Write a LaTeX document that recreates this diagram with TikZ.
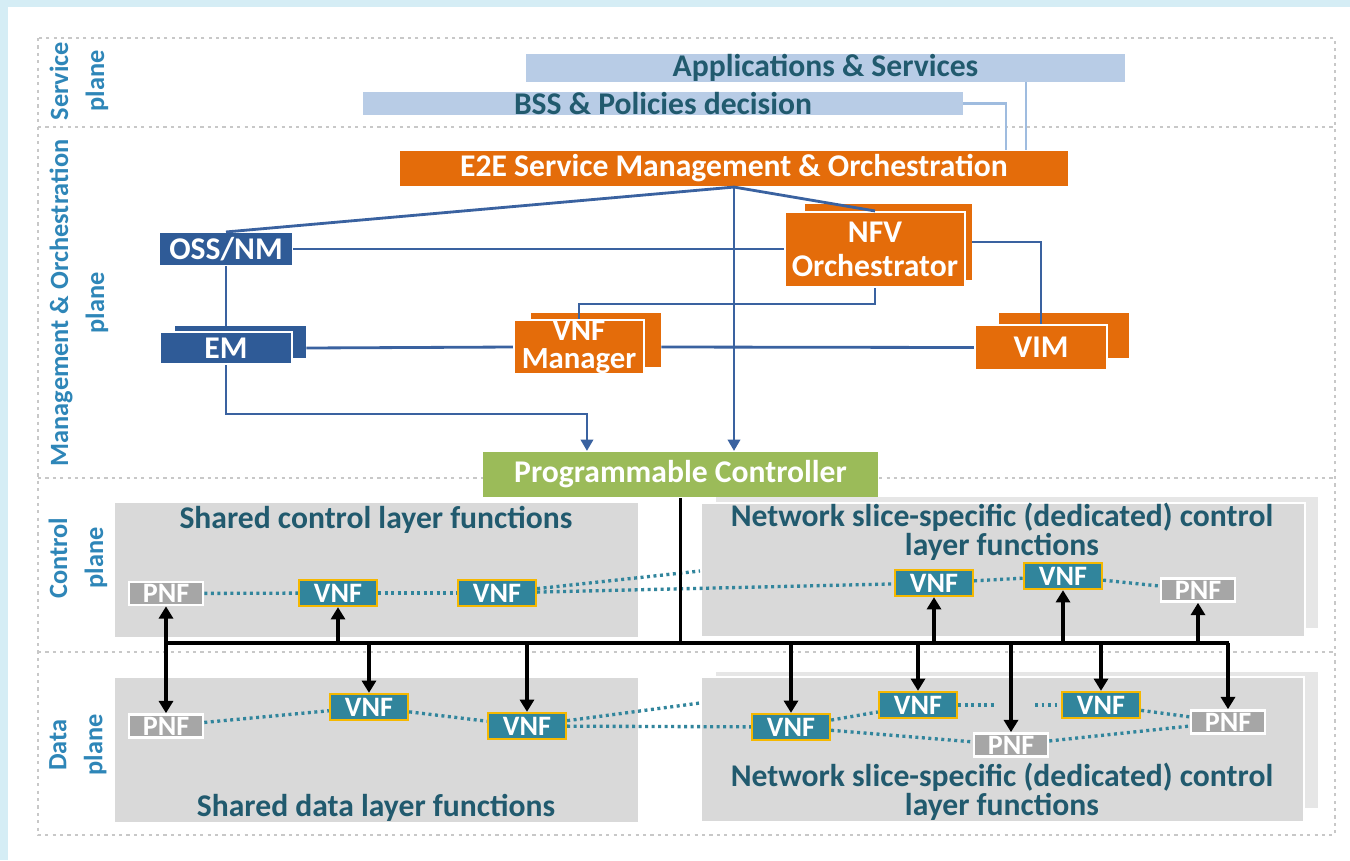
\documentclass[tikz,border=0pt]{standalone}
\usepackage{fontspec}
\setmainfont{Carlito}
\usepackage{tikz}
\usetikzlibrary{arrows.meta}
\definecolor{cFrame}{HTML}{D5EDF5}
\definecolor{cLine}{HTML}{C8C8C8}
\definecolor{cLbl}{HTML}{2E86B8}
\definecolor{cTitle}{HTML}{215A6E}
\definecolor{cSky}{HTML}{B8CCE6}
\definecolor{cSkyLn}{HTML}{9FBCDF}
\definecolor{cOrange}{HTML}{E46C0A}
\definecolor{cNavy}{HTML}{2F5B97}
\definecolor{cWire}{HTML}{3A62A0}
\definecolor{cGreen}{HTML}{9BBB59}
\definecolor{cRegion}{HTML}{D9D9D9}
\definecolor{cRegBk}{HTML}{E6E6E6}
\definecolor{cTeal}{HTML}{31859C}
\definecolor{cGold}{HTML}{F5B800}
\definecolor{cPGray}{HTML}{A6A6A6}
\tikzset{
  bar/.style={fill=cSky,text=cTitle,font=\fontsize{18}{20}\selectfont\bfseries,inner sep=0pt,minimum width=12cm,minimum height=0.44cm},
  mbox/.style={fill=#1,draw=white,line width=1.2pt,text=white,font=\fontsize{18}{18}\selectfont\bfseries,inner sep=0pt,align=center},
  mbox/.default=cOrange,
  mback/.style={fill=#1,inner sep=0pt},
  mback/.default=cOrange,
  vnfbox/.style={fill=cTeal,draw=cGold,line width=1.3pt,text=white,font=\fontsize{16}{16}\selectfont\bfseries,inner sep=0pt,minimum width=1.56cm,minimum height=0.52cm},
  pnfbox/.style={fill=cPGray,draw=white,line width=1.5pt,text=white,font=\fontsize{16}{16}\selectfont\bfseries,inner sep=0pt,minimum width=1.48cm,minimum height=0.46cm},
  planeln/.style={draw=cLine,line width=1.6pt,dash pattern=on 1.8pt off 2.4pt},
  planelbl/.style={rotate=90,font=\fontsize{15}{20.5}\selectfont\bfseries,text=cLbl,align=center,inner sep=0pt},
  regtitle/.style={text=cTitle,font=\fontsize{18}{16.5}\selectfont\bfseries,align=center,inner sep=0pt},
  sline/.style={draw=cSkyLn,line width=1.3pt},
  mline/.style={draw=cWire,line width=1.6pt},
  marr/.style={mline,-{Triangle[length=6.5pt,width=7pt]}},
  busln/.style={black,line width=1.9pt},
  barr/.style={busln,-{Triangle[length=7pt,width=8pt]}},
  dotlink/.style={draw=cTeal,line width=1.9pt,dash pattern=on 1.7pt off 2pt},
}
\begin{document}
\begin{tikzpicture}[x=0.02cm,y=-0.02cm]
\useasboundingbox (0,0) rectangle (1350,860);
\fill[cFrame] (0,0) rectangle (1350,860);
\fill[white] (8,7) rectangle (1350,860);
% planes
\draw[planeln] (38,38) rectangle (1335,835);
\foreach \y in {127,478,652} \draw[planeln] (38,\y) -- (1335,\y);
\node[planelbl] (l-svc) at (79,81) {Service\\plane};
\node[planelbl] (l-mgmt) at (79,303) {Management \& Orchestration\\plane};
\node[planelbl] (l-ctl) at (78,558) {Control\\plane};
\node[planelbl] (l-data) at (78,745) {Data\\plane};

% function layers
\fill[cRegion] (115,503) rectangle (638,637);
\fill[cRegBk] (716,497) rectangle (1318,628);
\fill[cRegion,draw=white,line width=1pt] (701,503) rectangle (1305,637);
\fill[cRegion] (115,678) rectangle (638,822);
\fill[cRegBk] (716,672) rectangle (1318,808);
\fill[cRegion,draw=white,line width=1pt] (701,677) rectangle (1304,822);
\node[regtitle] (t-cs) at (376,520) {Shared control layer functions};
\node[regtitle] (t-cd) at (1002,532) {Network slice-specific (dedicated) control\\layer functions};
\node[regtitle] (t-ds) at (376,808) {Shared data layer functions};
\node[regtitle] (t-dd) at (1002,792) {Network slice-specific (dedicated) control\\layer functions};

% service + management
\node[bar] (svc-apps) at (825.5,68) {Applications \& Services};
\node[bar] (svc-bss) at (663,103.5) {BSS \& Policies decision};
\node[mbox,draw=none,minimum width=13.36cm,minimum height=0.7cm] (e2e) at (734,168.5) {E2E Service Management \& Orchestration};
\node[mbox=cNavy,draw=none,minimum width=2.64cm,minimum height=0.64cm] (oss) at (226,249) {OSS/NM};
\node[mback=cNavy,minimum width=2.62cm,minimum height=0.64cm] (em-bk) at (240.5,342) {};
\node[mbox=cNavy,minimum width=2.64cm,minimum height=0.64cm] (em) at (226,348) {EM};
\node[mback,minimum width=3.34cm,minimum height=1.52cm] (nfvo-bk) at (888.5,242) {};
\node[mbox,minimum width=3.6cm,minimum height=1.5cm,font=\fontsize{18}{19.5}\selectfont\bfseries] (nfvo) at (875,249.5) {NFV\\Orchestrator};
\node[mback,minimum width=2.6cm,minimum height=1.08cm] (vnfm-bk) at (596,340) {};
\node[mbox,minimum width=2.6cm,minimum height=1.08cm,font=\fontsize{17.5}{16}\selectfont\bfseries] (vnfm) at (579,347) {VNF\\Manager};
\node[mback,minimum width=2.6cm,minimum height=0.9cm] (vim-bk) at (1064,335.5) {};
\node[mbox,minimum width=2.64cm,minimum height=0.9cm] (vim) at (1041,347.5) {VIM};
\node[mbox=cGreen,draw=none,minimum width=7.9cm,minimum height=0.9cm] (pc) at (680.5,474.5) {Programmable Controller};

\draw[sline] (svc-bss.east) -- ++(43,0) coordinate (bss-k) -- (bss-k |- e2e.north);
\draw[sline] (1026,0 |- svc-apps.south) -- (1026,0 |- e2e.north);
\draw[mline] (e2e.south) -- (oss.north);
\draw[mline] (e2e.south) -- (nfvo.north);
\draw[marr] (e2e.south) -- (e2e.south |- pc.north);
\draw[mline] (oss.east) -- (oss.east -| nfvo.west);
\draw[mline] (nfvo-bk.east) -| (vim.north);
\draw[mline] (nfvo.south) -- ++(0,16) -| (vnfm.north);
\draw[mline] (oss.south) -- (oss.south |- em-bk.north);
\draw[mline] (em.east -| em-bk.east) -- (vnfm.west);
\draw[mline] (vnfm.east -| vnfm-bk.east) -- (vim.west);
\draw[marr] (em.south) -- ++(0,49) -| ([xshift=2.1cm]pc.north west);

% control plane
\node[pnfbox] (c-pnf1) at (166,593.5) {PNF};
\node[vnfbox] (c-vnf1) at (338,593) {VNF};
\node[vnfbox] (c-vnf2) at (497,593) {VNF};
\node[vnfbox] (c-vnf3) at (934,583) {VNF};
\node[vnfbox] (c-vnf4) at (1063,576) {VNF};
\node[pnfbox] (c-pnf2) at (1198,590) {PNF};
\coordinate (c-end) at (700,571);
\draw[dotlink] (c-pnf1) -- (c-vnf1);
\draw[dotlink] (c-vnf1) -- (c-vnf2);
\draw[dotlink] (c-vnf2) -- (c-vnf3);
\draw[dotlink] (c-vnf2) -- (c-end);
\draw[dotlink] (c-vnf3) -- (c-vnf4);
\draw[dotlink] (c-vnf4) -- (c-pnf2);

% data plane
\node[pnfbox] (d-pnf1) at (166,726) {PNF};
\node[vnfbox] (d-vnf1) at (369,707) {VNF};
\node[vnfbox] (d-vnf2) at (527,726) {VNF};
\node[vnfbox] (d-vnf3) at (791,727) {VNF};
\node[vnfbox] (d-vnf4) at (918,705) {VNF};
\node[pnfbox] (d-pnf2) at (1011,745) {PNF};
\node[vnfbox] (d-vnf5) at (1101,705) {VNF};
\node[pnfbox] (d-pnf3) at (1228,722) {PNF};
\coordinate (d-end) at (700,703);
\coordinate (d-gapL) at (996,705);
\coordinate (d-gapR) at (1035,705);
\draw[dotlink] (d-pnf1) -- (d-vnf1);
\draw[dotlink] (d-vnf1) -- (d-vnf2);
\draw[dotlink] (d-vnf2) -- (d-vnf3);
\draw[dotlink] (d-vnf2) -- (d-end);
\draw[dotlink] (d-vnf3) -- (d-vnf4);
\draw[dotlink] (d-vnf3) -- (d-pnf2);
\draw[dotlink] (d-vnf4) -- (d-gapL);
\draw[dotlink] (d-gapR) -- (d-vnf5);
\draw[dotlink] (d-vnf5) -- (d-pnf3);
\draw[dotlink] (d-pnf2) -- (d-pnf3);

% controller bus
\coordinate (bus-l) at (166,643);
\coordinate (bus-r) at (1229,643);
\draw[busln] (pc.south) -- (pc.south |- bus-l);
\draw[busln] (bus-l) -- (bus-r);
\foreach \n in {c-pnf1,c-vnf1,c-vnf3,c-vnf4,c-pnf2}
  \draw[barr] (\n.south |- bus-l) -- (\n.south);
\foreach \n in {d-pnf1,d-vnf1,d-vnf2,d-vnf3,d-vnf4,d-pnf2,d-vnf5,d-pnf3}
  \draw[barr] (\n.north |- bus-l) -- (\n.north);
\end{tikzpicture}
\end{document}
